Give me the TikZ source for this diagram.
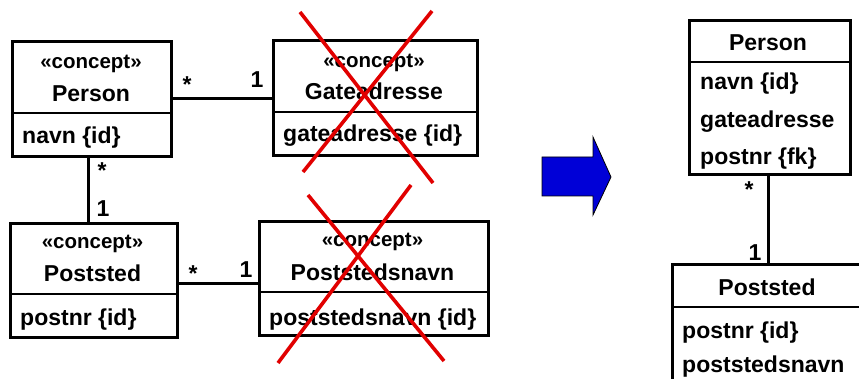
\documentclass[tikz,border=0pt]{standalone}
\usepackage{fontspec}
\setmainfont{Liberation Sans}
\usepackage{tikz}
\usetikzlibrary{calc,positioning}

\definecolor{crossred}{RGB}{225,0,0}
\definecolor{arrowblue}{RGB}{0,0,215}

\tikzset{
  classbox/.style={draw, line width=2.6pt, inner sep=0pt, anchor=north west},
  divider/.style={line width=1.2pt},
  assoc/.style={line width=2.8pt},
  stereo/.style={font=\fontsize{20.5}{24}\selectfont\bfseries, anchor=base, inner sep=0pt},
  cname/.style={font=\fontsize{23}{27}\selectfont\bfseries, anchor=base, inner sep=0pt},
  attr/.style={font=\fontsize{23}{27}\selectfont\bfseries, anchor=base west, inner sep=0pt},
  mult/.style={font=\fontsize{23}{27}\selectfont\bfseries, anchor=base, inner sep=0pt},
  crossout/.style={draw=crossred, line width=3.6pt},
  bigarrow/.style={draw=black, line width=0.8pt, fill=arrowblue}
}

\begin{document}
\begin{tikzpicture}[x=1pt,y=-1pt]
  \clip (0,0) rectangle (859,379);
  \useasboundingbox (0,0) rectangle (859,379);

  % left model
  \node[classbox, minimum width=159pt, minimum height=115pt] (person) at (11,40) {};
  \draw[divider] (person.west |- 0,113) -- (person.east |- 0,113);
  \node[stereo] (personst) at (91,69) {«concept»};
  \node[cname] (personname) at (91,102) {Person};
  \node[attr] (personattr) at (22,144) {navn \{id\}};

  \node[classbox, minimum width=204pt, minimum height=115pt] (gate) at (272,39) {};
  \draw[divider] (gate.west |- 0,112) -- (gate.east |- 0,112);
  \node[stereo] (gatest) at (374,68) {«concept»};
  \node[cname] (gatename) at (374,100) {Gateadresse};
  \node[attr] (gateattr) at (283,142) {gateadresse \{id\}};

  \node[classbox, minimum width=167pt, minimum height=114pt] (poststed) at (9,222) {};
  \draw[divider] (poststed.west |- 0,294) -- (poststed.east |- 0,294);
  \node[stereo] (poststedst) at (92.5,249) {«concept»};
  \node[cname] (poststedname) at (92.5,282) {Poststed};
  \node[attr] (poststedattr) at (20,325) {postnr \{id\}};

  \node[classbox, minimum width=229pt, minimum height=114pt] (pnavn) at (258,220) {};
  \draw[divider] (pnavn.west |- 0,292) -- (pnavn.east |- 0,292);
  \node[stereo] (pnavnst) at (372.5,247) {«concept»};
  \node[cname] (pnavnname) at (372.5,280) {Poststedsnavn};
  \node[attr] (pnavnattr) at (269,325) {poststedsnavn \{id\}};

  % associations
  \draw[assoc] (person.east) -- (person.east -| gate.west);
  \node[mult] (m1) at (187,93) {*};
  \node[mult] (m2) at (257,88) {1};
  \draw[assoc] ([xshift=-3.5pt]person.south) -- ([xshift=-3.5pt]person.south |- poststed.north);
  \node[mult] (m3) at (102,179) {*};
  \node[mult] (m4) at (103,217) {1};
  \draw[assoc] ([yshift=-3pt]poststed.east) -- ([yshift=-3pt]poststed.east -| pnavn.west);
  \node[mult] (m5) at (193,282) {*};
  \node[mult] (m6) at (246,277) {1};

  % crossed out
  \draw[crossout] (300,12) -- (433,183);
  \draw[crossout] (432,11) -- (303,172);
  \draw[crossout] (308,195) -- (444,361);
  \draw[crossout] (411,185) -- (278,363);

  % arrow
  \draw[bigarrow] (542,157) -- (593,157) -- (593,137) -- (611,177)
    -- (593,215) -- (593,196) -- (542,196) -- cycle;

  % right model
  \node[classbox, minimum width=161pt, minimum height=154pt] (rperson) at (688,19) {};
  \draw[divider] (rperson.west |- 0,62) -- (rperson.east |- 0,62);
  \node[cname] (rpersonname) at (768,51) {Person};
  \node[attr] (ra1) at (700,90) {navn \{id\}};
  \node[attr] (ra2) at (700,128) {gateadresse};
  \node[attr] (ra3) at (700,165) {postnr \{fk\}};

  \node[classbox, minimum width=200pt, minimum height=150pt] (rpoststed) at (671,263) {};
  \draw[divider] (rpoststed.west |- 0,307) -- (rpoststed.east |- 0,307);
  \node[cname] (rpoststedname) at (767,295) {Poststed};
  \node[attr] (rb1) at (682,338) {postnr \{id\}};
  \node[attr] (rb2) at (682,372) {poststedsnavn};

  \draw[assoc] ([xshift=-1.5pt]rperson.south) -- ([xshift=-1.5pt]rperson.south |- rpoststed.north);
  \node[mult] (m7) at (749,198) {*};
  \node[mult] (m8) at (755,261) {1};
\end{tikzpicture}
\end{document}
